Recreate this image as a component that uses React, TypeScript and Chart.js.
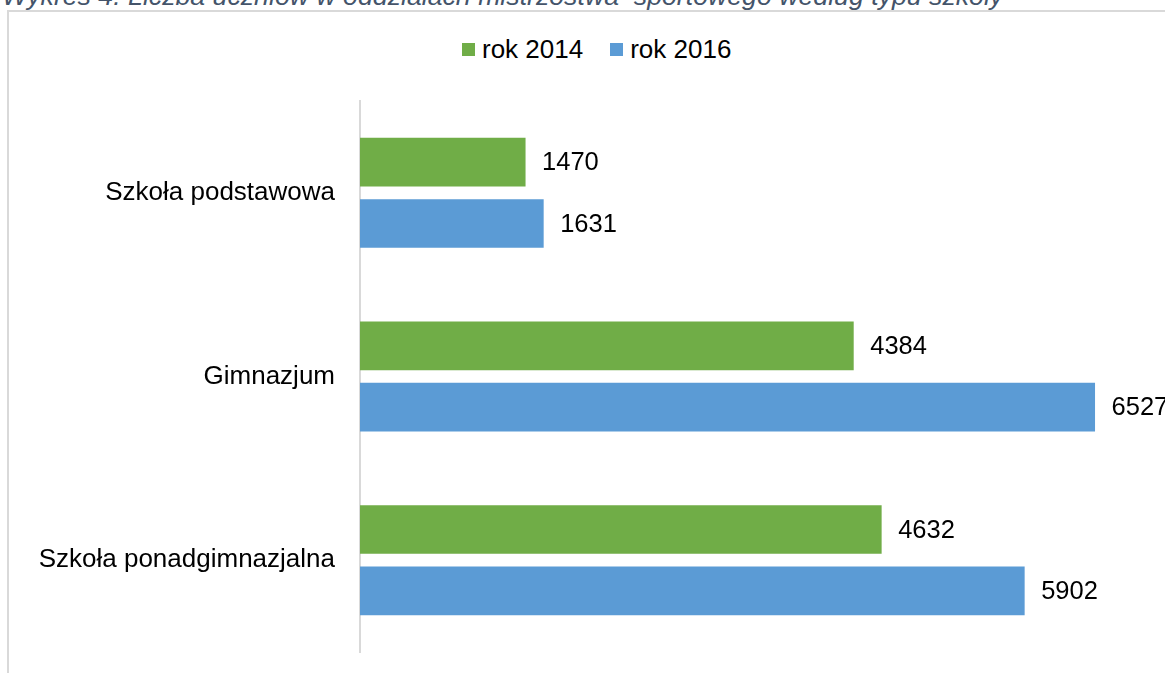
import React, { useEffect, useRef } from "react";
import { Chart, registerables } from "chart.js";

Chart.register(...registerables);

const categories = ["Szkoła podstawowa", "Gimnazjum", "Szkoła ponadgimnazjalna"];
const seriesNames = ["rok 2014", "rok 2016"];
const values2014 = [1470, 4384, 4632];
const values2016 = [1631, 6527, 5902];
const colors = ["#70ad47", "#5b9bd5"];
const titleText = "Wykres 4. Liczba uczniów w oddziałach mistrzostwa  sportowego według typu szkoły";

const FONT = "'Liberation Sans', Arial, sans-serif";

const valueLabels = {
  id: "valueLabels",
  afterDatasetsDraw(chart: any) {
    const ctx = chart.ctx;
    ctx.save();
    ctx.font = `25.5px ${FONT}`;
    ctx.fillStyle = "#000000";
    ctx.textAlign = "left";
    ctx.textBaseline = "middle";
    chart.data.datasets.forEach((ds: any, i: number) => {
      const meta = chart.getDatasetMeta(i);
      meta.data.forEach((bar: any, j: number) => {
        ctx.fillText(String(ds.data[j]), bar.x + 16.5, bar.y + 1);
      });
    });
    ctx.restore();
  },
};

export default function App() {
  const ref = useRef<HTMLCanvasElement | null>(null);

  useEffect(() => {
    if (!ref.current) return;
    const chart = new Chart(ref.current, {
      type: "bar",
      data: {
        labels: categories,
        datasets: [
          { label: seriesNames[0], data: values2014, backgroundColor: colors[0], borderWidth: 0 },
          { label: seriesNames[1], data: values2016, backgroundColor: colors[1], borderWidth: 0 },
        ],
      },
      options: {
        indexAxis: "y",
        animation: false,
        responsive: false,
        maintainAspectRatio: false,
        layout: { padding: { top: 101, bottom: 21, left: 0, right: 16.7 } },
        datasets: { bar: { categoryPercentage: 0.668, barPercentage: 0.793 } },
        plugins: {
          legend: { display: false },
          title: { display: false },
          tooltip: { enabled: false },
        },
        scales: {
          x: { display: false, min: 0, max: 7000 },
          y: {
            display: true,
            grid: { display: false, drawTicks: false },
            border: { display: true, color: "#d9d9d9", width: 2 },
            ticks: {
              padding: 25,
              color: "#000000",
              font: { family: FONT, size: 26 },
            },
            afterFit(scale: any) {
              scale.width = 360;
              scale.paddingTop = 0;
              scale.paddingBottom = 0;
            },
          },
        },
      },
      plugins: [valueLabels],
    });
    return () => chart.destroy();
  }, []);

  return (
    <div
      style={{
        position: "fixed",
        left: 0,
        top: 0,
        width: 1165,
        height: 673,
        overflow: "hidden",
        background: "#ffffff",
        fontFamily: FONT,
      }}
    >
      <div
        style={{
          position: "absolute",
          left: 7,
          top: 10,
          width: 1250,
          height: 760,
          border: "2px solid #d9d9d9",
          boxSizing: "border-box",
        }}
      />
      <div
        style={{
          position: "absolute",
          left: 2,
          top: -16.6,
          fontSize: 26.7,
          lineHeight: "26.7px",
          fontStyle: "italic",
          color: "#44546a",
          whiteSpace: "pre",
        }}
      >
        {titleText}
      </div>
      <div
        style={{
          position: "absolute",
          left: 462,
          top: 34,
          height: 30,
          display: "flex",
          alignItems: "center",
          fontSize: 26,
          lineHeight: "30px",
          color: "#000000",
          whiteSpace: "nowrap",
        }}
      >
        {seriesNames.map((n, i) => (
          <div key={n} style={{ display: "flex", alignItems: "center", marginRight: i === 0 ? 27 : 0 }}>
            <span style={{ display: "inline-block", width: 13, height: 13, background: colors[i], marginRight: 7 }} />
            <span>{n}</span>
          </div>
        ))}
      </div>
      <canvas
        ref={ref}
        width={1165}
        height={673}
        style={{ position: "absolute", left: 0, top: 0, width: 1165, height: 673 }}
      />
    </div>
  );
}
